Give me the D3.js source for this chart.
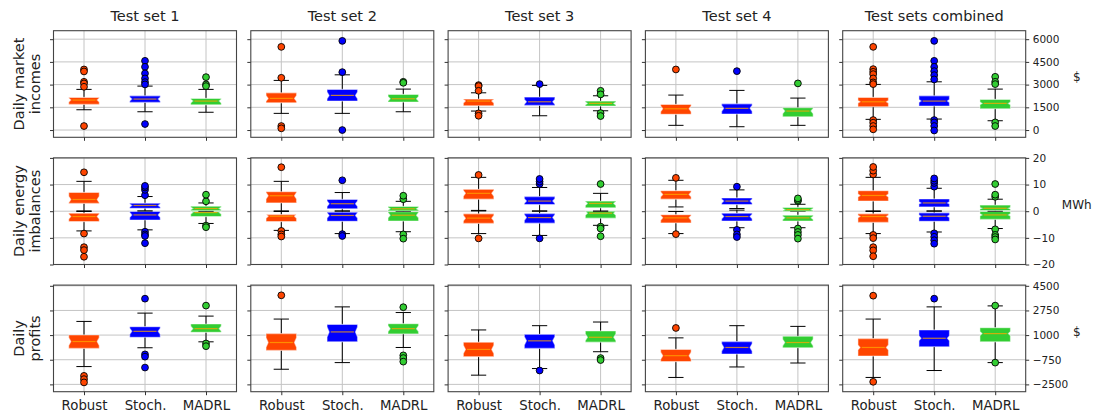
<!DOCTYPE html>
<html>
<head>
<meta charset="utf-8">
<script src="https://d3js.org/d3.v7.min.js"></script>
<style>
  body { margin: 0; background: #fff; }
  text { font-family: "DejaVu Sans", sans-serif; fill: #222; }
</style>
</head>
<body>
<div id="chart"></div>
<script>

// column titles, methods and row labels
var testSets = ["Test set 1", "Test set 2", "Test set 3", "Test set 4", "Test sets combined"];
var methods = ["Robust", "Stoch.", "MADRL"];
var methodColors = ["#ff4500", "#0000ff", "#32cd32"];
var rowLabels = [["Daily market", "incomes"], ["Daily energy", "imbalances"], ["Daily", "profits"]];
var rowUnits = ["$", "MWh", "$"];
var sampleSizes = [30, 30, 30, 30, 120]; // days per test set (used for the notches)

// tick values for each row
var incomeTicks = [0, 1500, 3000, 4500, 6000];
var imbalanceTicks = [-20, -10, 0, 10, 20];
var profitTicks = [-2500, -750, 1000, 2750, 4500];

// box stats: per test set, per method -> [whisker low, q1, median, q3, whisker high]
var incomeStats = [
    [[1339, 1694, 1978, 2156, 2683], [1207, 1826, 2044, 2262, 2901], [1174, 1668, 1912, 2090, 2683]],
    [[1101, 1800, 2090, 2459, 3277], [1101, 1912, 2288, 2683, 3646], [1207, 1846, 2064, 2354, 2703]],
    [[1253, 1602, 1912, 2044, 2459], [943, 1628, 1866, 2176, 2947], [1272, 1582, 1760, 1912, 2262]],
    [[310, 1035, 1404, 1694, 2308], [218, 1055, 1431, 1734, 2617], [310, 877, 1253, 1470, 2110]],
    [[705, 1536, 1866, 2156, 3013], [725, 1582, 1912, 2262, 3185], [613, 1404, 1760, 2024, 2703]]
];
var incomeOutliers = [
    [[4000, 3870, 3185, 3080, 2855, 264], [4570, 4174, 3738, 3408, 3165, 3013, 396], [3494, 3013, 2901]],
    [[5492, 3450, 264, 112], [5888, 3824, 0], [3185, 3119]],
    [[2967, 2901, 2591, 1101, 943], [3033], [2591, 2354, 1121, 923]],
    [[4000], [3890], [3080]],
    [[5492, 4022, 3844, 3692, 3408, 3145, 3033, 659, 483, 264, 46],
     [5888, 4570, 4174, 3890, 3626, 3343, 659, 505, 264, -30],
     [3516, 3185, 3033, 505, 264]]
];

// energy imbalances: positive and negative parts, drawn as two boxes per method
var posImbalanceStats = [
    [[0.1, 2.9, 4.4, 7.05, 11.2], [0.1, 1.1, 2.15, 3.0, 5.5], [0, 0.2, 1.0, 1.9, 3.1]],
    [[0.1, 3.1, 5.8, 7.3, 11.2], [0.1, 0.9, 2.8, 4.4, 7.0], [0, 0.1, 0.9, 1.8, 3.7]],
    [[0.1, 4.5, 6.7, 8.2, 12.7], [0.1, 2.5, 3.8, 5.5, 8.9], [0, 1.25, 2.9, 3.8, 6.7]],
    [[1.6, 4.5, 6.3, 7.7, 11.6], [1.0, 2.5, 3.8, 5.0, 8.0], [0, 0, 0.6, 1.4, 2.6]],
    [[0.1, 3.8, 5.9, 7.7, 12.7], [0.1, 1.6, 3.1, 4.6, 8.6], [0, 0.25, 1.1, 2.3, 4.5]]
];
var posImbalanceOutliers = [
    [[14.6], [6.0, 8.0, 8.9, 9.5], [3.7, 6.2]],
    [[16.5], [11.6], [4.5, 5.8]],
    [[13.6], [10.2, 11.1, 12.1], [10.2]],
    [[12.5], [9.2], [3.8, 4.2, 4.8]],
    [[13.8, 15.2, 16.6], [9.2, 10.6, 11.4, 12.3], [5.4, 6.2, 10.2]]
];
var negImbalanceStats = [
    [[-7.4, -3.9, -2.0, -0.75, -0.1], [-7.0, -3.3, -1.4, -0.1, 0], [-4.6, -2.0, -0.5, -0.1, 0]],
    [[-7.2, -3.9, -1.9, -1.25, -0.1], [-8.4, -3.8, -1.6, -0.4, 0], [-7.7, -3.7, -1.5, -0.2, 0]],
    [[-8.4, -4.6, -2.6, -1.0, 0.3], [-9.1, -4.5, -2.4, -0.9, 0], [-5.3, -2.6, -0.75, 0, 0]],
    [[-8.4, -4.4, -2.5, -1.3, -0.1], [-6.2, -3.7, -2.0, -0.75, 0.4], [-6.2, -3.7, -2.5, -1.5, 0]],
    [[-8.4, -4.2, -2.0, -1.0, -0.1], [-7.8, -3.8, -1.9, -0.6, 0], [-6.5, -3.1, -1.4, -0.1, 0]]
];
var negImbalanceOutliers = [
    [[-8.4, -13.5, -14.6, -17.1], [-7.7, -8.7, -9.3, -12.0], [-5.4, -6.0]],
    [[-7.4, -8.7, -9.5], [-8.6, -9.3], [-8.7, -10.3]],
    [[-10.2], [-10.2], [-5.8, -6.5, -9.4]],
    [[-8.6], [-7.0, -8.7, -9.7], [-6.5, -7.8, -8.9, -10.3]],
    [[-8.9, -10.1, -13.5, -14.7, -16.9], [-8.3, -9.6, -10.9, -12.2], [-6.8, -8.9, -9.7, -10.6]]
];

var profitStats = [
    [[-1235, 51, 543, 1014, 1970], [100, 845, 1267, 1597, 2560], [522, 1197, 1457, 1787, 2349]],
    [[-1425, -90, 473, 1105, 2138], [-954, 522, 1225, 1759, 3003], [121, 1084, 1457, 1808, 2602]],
    [[-1846, -532, -19, 497, 1365], [-1376, 51, 592, 1056, 1668], [-181, 497, 845, 1295, 1928]],
    [[-2008, -884, -462, -19, 803], [-1263, -349, 121, 543, 1668], [-982, 100, 473, 916, 1618]],
    [[-2008, -490, 121, 754, 2138], [-1516, 171, 775, 1365, 3003], [-954, 522, 1105, 1527, 3073]]
];
var profitOutliers = [
    [[-1896, -2128, -2360], [3586, -370, -532, -1305], [3094, 403, 213]],
    [[3825], [], [2981, -441, -631, -884]],
    [[], [-1516], [-631, -771]],
    [[1506], [], []],
    [[3797, -2317], [3586], [3094, -954]]
];

// layout
var panelW = 183, panelH = 106.6;
var panelLeft = function (i) { return 53.5 + i * 197.3; };
var panelTop = function (j) { return 30.7 + j * 127.2; };

var svg = d3.select("#chart")
    .append("svg")
    .attr("width", 1094)
    .attr("height", 412);

var rows = [
    { domain: [-480, 6560], ticks: incomeTicks, boxes: [[incomeStats, incomeOutliers]] },
    { domain: [-20, 20], ticks: imbalanceTicks,
      boxes: [[negImbalanceStats, negImbalanceOutliers], [posImbalanceStats, posImbalanceOutliers]] },
    { domain: [-3020, 4550], ticks: profitTicks, boxes: [[profitStats, profitOutliers]] }
];

var x = d3.scaleLinear().domain([0.5, 3.5]).range([0, panelW]);
var boxW = x(1.25) - x(0.75);

function drawBox(g, y, cx, s, outs, color, n) {
    var wlo = s[0], q1 = s[1], med = s[2], q3 = s[3], whi = s[4];
    var L = cx - boxW / 2, R = cx + boxW / 2;
    var nh = 1.57 * (q3 - q1) / Math.sqrt(n);
    var ind = boxW * 0.07;

    // whiskers and caps
    g.append("line").attr("x1", cx).attr("x2", cx).attr("y1", y(q3)).attr("y2", y(whi))
        .attr("stroke", "#000").attr("stroke-width", 1);
    g.append("line").attr("x1", cx).attr("x2", cx).attr("y1", y(q1)).attr("y2", y(wlo))
        .attr("stroke", "#000").attr("stroke-width", 1);
    [wlo, whi].forEach(function (v) {
        g.append("line").attr("x1", cx - boxW / 4).attr("x2", cx + boxW / 4)
            .attr("y1", y(v)).attr("y2", y(v))
            .attr("stroke", "#000").attr("stroke-width", 1);
    });

    // notched box
    var pts = [[L, q1], [L, med - nh], [L + ind, med], [L, med + nh], [L, q3],
               [R, q3], [R, med + nh], [R - ind, med], [R, med - nh], [R, q1]];
    g.append("path")
        .attr("d", d3.line().x(function (p) { return p[0]; }).y(function (p) { return y(p[1]); })(pts) + "Z")
        .attr("fill", color)
        .attr("stroke", "rgba(255,255,255,0.45)")
        .attr("stroke-width", 1.2);

    // median
    g.append("line").attr("x1", cx - boxW * 0.38).attr("x2", cx + boxW * 0.38)
        .attr("y1", y(med)).attr("y2", y(med))
        .attr("stroke", "#ffa500").attr("stroke-opacity", 0.75).attr("stroke-width", 1.2);

    // outliers
    g.selectAll(null)
        .data(outs)
        .enter()
        .append("circle")
        .attr("cx", cx)
        .attr("cy", function (d) { return y(d); })
        .attr("r", 3.4)
        .attr("fill", color)
        .attr("stroke", "#000")
        .attr("stroke-width", 0.9);
}

rows.forEach(function (row, j) {
    var y = d3.scaleLinear().domain(row.domain).range([panelH, 0]);

    testSets.forEach(function (setName, i) {
        var g = svg.append("g")
            .attr("transform", "translate(" + panelLeft(i) + "," + panelTop(j) + ")");

        // grid
        g.selectAll(null).data(row.ticks).enter().append("line")
            .attr("x1", 0).attr("x2", panelW)
            .attr("y1", function (d) { return y(d); }).attr("y2", function (d) { return y(d); })
            .attr("stroke", "#c4c4c4").attr("stroke-width", 1);
        g.selectAll(null).data([1, 2, 3]).enter().append("line")
            .attr("x1", function (d) { return x(d); }).attr("x2", function (d) { return x(d); })
            .attr("y1", 0).attr("y2", panelH)
            .attr("stroke", "#c4c4c4").attr("stroke-width", 1);

        // boxes
        row.boxes.forEach(function (b) {
            methods.forEach(function (m, k) {
                drawBox(g, y, x(k + 1), b[0][i][k], b[1][i][k], methodColors[k], sampleSizes[i]);
            });
        });

        // frame
        g.append("rect").attr("width", panelW).attr("height", panelH)
            .attr("fill", "none").attr("stroke", "#444").attr("stroke-width", 1.1);

        // left ticks (no labels)
        g.append("g")
            .call(d3.axisLeft(y).tickValues(row.ticks).tickSize(3.5).tickFormat(""))
            .call(function (a) { a.select(".domain").remove(); a.selectAll("line").attr("stroke", "#333"); });

        // bottom ticks
        var bottom = g.append("g")
            .attr("transform", "translate(0," + panelH + ")")
            .call(d3.axisBottom(x).tickValues([1, 2, 3]).tickSize(3.5).tickPadding(5)
                .tickFormat(function (d) { return j === 2 ? methods[d - 1] : ""; }));
        bottom.select(".domain").remove();
        bottom.selectAll("line").attr("stroke", "#333");
        bottom.selectAll("text").style("font-size", "13.3px").style("font-family", "DejaVu Sans").attr("fill", "#222");

        // right axis with labels on the last column
        if (i === testSets.length - 1) {
            var right = g.append("g")
                .attr("transform", "translate(" + panelW + ",0)")
                .call(d3.axisRight(y).tickValues(row.ticks).tickSize(3.5).tickPadding(3.5)
                    .tickFormat(d3.format("d")));
            right.select(".domain").remove();
            right.selectAll("line").attr("stroke", "#333");
            right.selectAll("text").style("font-size", "10.5px").style("font-family", "DejaVu Sans").attr("fill", "#222");

            svg.append("text")
                .attr("x", 1076.7)
                .attr("y", panelTop(j) + panelH / 2 - 2.7)
                .attr("text-anchor", "middle")
                .style("font-size", "12px")
                .text(rowUnits[j]);
        }

        // column titles
        if (j === 0) {
            svg.append("text")
                .attr("x", panelLeft(i) + panelW / 2)
                .attr("y", 21)
                .attr("text-anchor", "middle")
                .style("font-size", "14.5px")
                .text(setName);
        }
    });

    // row labels (two lines, rotated)
    var cy = panelTop(j) + panelH / 2;
    rowLabels[j].forEach(function (line, l) {
        svg.append("text")
            .attr("transform", "translate(" + (23.5 + l * 16.7) + "," + cy + ") rotate(-90)")
            .attr("text-anchor", "middle")
            .style("font-size", "14.5px")
            .text(line);
    });
});

</script>
</body>
</html>
